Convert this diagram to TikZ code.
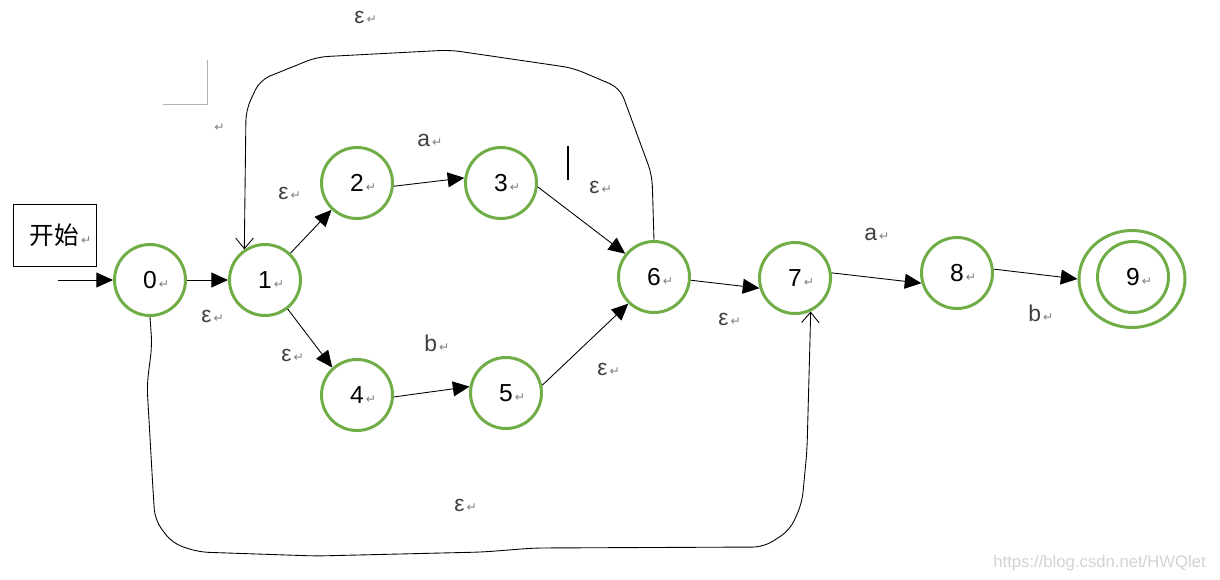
\documentclass[tikz,border=0pt]{standalone}
\usepackage{fontspec}
\setmainfont{Liberation Sans}
\newfontfamily\cjk{Noto Sans CJK SC}
\newfontfamily\dejavu{DejaVu Sans}
\usetikzlibrary{arrows.meta,shapes.geometric}
\definecolor{stgreen}{HTML}{70AD47}
\definecolor{labgray}{HTML}{404040}
\newcommand{\crmark}{{\dejavu\color{gray}\fontsize{7}{7}\selectfont\,↵}}

\begin{document}
\begin{tikzpicture}[x=0.02cm, y=-0.02cm,
    state/.style={circle, draw=stgreen, line width=1.7pt, minimum size=1.42cm, inner sep=0pt, font=\fontsize{14}{14}\selectfont},
    lab/.style={anchor=west, inner sep=0pt, text=labgray, font=\fontsize{13}{13}\selectfont},
    edge/.style={-{Triangle[length=9.5pt,width=8.5pt]}, line width=0.5pt},
    hand/.style={-{Straight Barb[length=6pt,width=10pt]}, line width=0.5pt, rounded corners=6pt}]
    \useasboundingbox (0,0) rectangle (1220,579);
    % states
    \node[state] (S0) at (150,280) {0\rlap{\crmark}};
    \node[state] (S1) at (265,280) {1\rlap{\crmark}};
    \node[state] (S2) at (357,183) {2\rlap{\crmark}};
    \node[state] (S3) at (501,183) {3\rlap{\crmark}};
    \node[state] (S4) at (357,395) {4\rlap{\crmark}};
    \node[state] (S5) at (506,393) {5\rlap{\crmark}};
    \node[state] (S6) at (654,277) {6\rlap{\crmark}};
    \node[state] (S7) at (795,278) {7\rlap{\crmark}};
    \node[state] (S8) at (957,273) {8\rlap{\crmark}};
    \node[ellipse, draw=stgreen, line width=1.7pt, minimum width=2.12cm, minimum height=1.94cm] (S9o) at (1132,279) {};
    \node[state] (S9) at (1133,277) {9\rlap{\crmark}};
    % start
    \node[draw, line width=0.5pt, minimum width=1.66cm, minimum height=1.24cm, font=\cjk\fontsize{14}{14}\selectfont] (start) at (54.5,235) {开始\rlap{\crmark}};
    \coordinate (in) at (58,280);
    % transitions
    \draw[edge] (in) -- (S0);
    \draw[edge] (S0) -- (S1);
    \draw[edge] (S1) -- (S2);
    \draw[edge] (S2.-5) -- (S3.172);
    \draw[edge] (S3.-6) -- (S6.141);
    \draw[edge] (S1.-52) -- (S4.132);
    \draw[edge] (S4.-3) -- (S5.170);
    \draw[edge] (S5.12) -- (S6.226);
    \draw[edge] (S6.-5) -- (S7.196);
    \draw[edge] (S7.8) -- (S8.196);
    \draw[edge] (S8.6) -- (S9o.west);
    % hand-drawn loops
    \draw[hand] (S6.north) -- (652,175) -- (620,88) -- (573,68) -- (450,50) -- (317,57) -- (260,80) -- (246,110) -- (S1.124);
    \draw[hand] (S0.south) -- (152,345) -- (147,385) -- (153,490) -- (155,520) -- (172,543) -- (198,552) -- (316,556) -- (483,552) -- (534,548) -- (764,547) -- (790,530) -- (802,503) -- (807,450) -- (810,340) -- (S7.-65);
    % labels
    \node[lab] (lt) at (354,17) {ε\crmark};
    \node[lab] (l12) at (278,193) {ε\crmark};
    \node[lab] (l23) at (417,140) {a\crmark};
    \node[lab] (l36) at (589,187) {ε\crmark};
    \node[lab] (l01) at (201,316) {ε\crmark};
    \node[lab] (l14) at (281,355) {ε\crmark};
    \node[lab] (l45) at (424,343) {b\crmark};
    \node[lab] (l56) at (597,369) {ε\crmark};
    \node[lab] (l67) at (718,319) {ε\crmark};
    \node[lab] (l78) at (864,234) {a\crmark};
    \node[lab] (l89) at (1028,313) {b\crmark};
    \node[lab] (lb) at (454,505) {ε\crmark};
    % stray marks
    \node[lab] (cr) at (212,128) {\crmark};
    \draw[gray!60, line width=0.5pt] (163,104) -- (207,104) -- (207,60);
    \draw[line width=0.6pt] (568,146) -- (568,180);
    \node[anchor=east, text=gray!35, font=\fontsize{9.5}{9.5}\selectfont] (wm) at (1212,563) {https://blog.csdn.net/HWQlet};
\end{tikzpicture}
\end{document}
